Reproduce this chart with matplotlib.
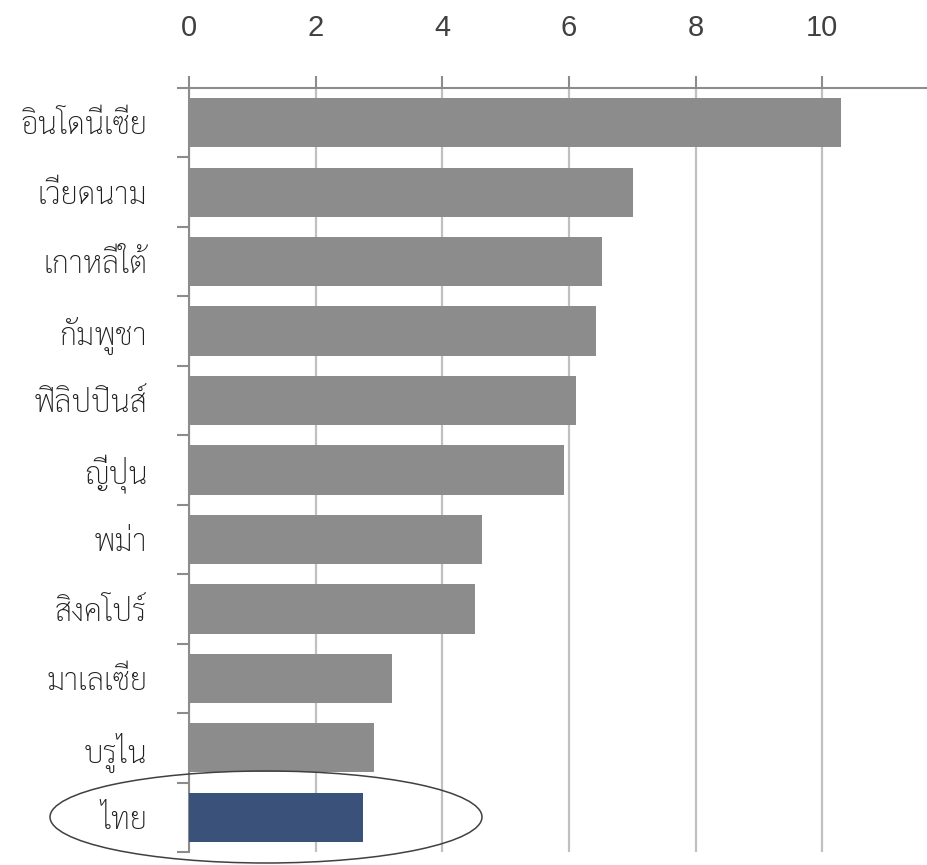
import matplotlib
matplotlib.use("Agg")
import matplotlib.pyplot as plt
from matplotlib.patches import Ellipse
import numpy as np

countries = ["อินโดนีเซีย", "เวียดนาม", "เกาหลีใต้", "กัมพูชา", "ฟิลิปปินส์",
             "ญี่ปุ่น", "พม่า", "สิงคโปร์", "มาเลเซีย", "บรูไน", "ไทย"]
values = [10.30, 7.01, 6.52, 6.43, 6.11, 5.92, 4.63, 4.52, 3.21, 2.92, 2.74]
highlight = "ไทย"
xticks = [0, 2, 4, 6, 8, 10]

thai_fonts = ["Sarabun", "Noto Sans Thai Looped", "Noto Sans Thai", "DejaVu Sans"]
num_fonts = ["Liberation Sans", "DejaVu Sans"]

fig = plt.figure(figsize=(9.28, 8.65), dpi=100)
ax = fig.add_axes([189 / 928, 1 - 852 / 865, (928 - 189) / 928, (852 - 88) / 865])

y = np.arange(len(countries))
colors = ["#3a5279" if c == highlight else "#8c8c8c" for c in countries]
ax.barh(y, values, height=0.71, color=colors, zorder=3)

ax.set_xlim(0, 11.67)
ax.set_ylim(len(countries) - 0.5, -0.5)

ax.xaxis.tick_top()
ax.set_xticks(xticks)
ax.set_xticklabels([str(t) for t in xticks], family=num_fonts, fontsize=21, color="#404040")
ax.tick_params(axis="x", which="major", direction="out", length=9, width=1.5,
               color="#8c8c8c", pad=24)

ax.set_yticks(y)
ax.set_yticklabels(countries, family=thai_fonts, fontsize=22, fontweight="light",
                   color="#1e1e1e")
ax.set_yticks(np.arange(len(countries) + 1) - 0.5, minor=True)
ax.tick_params(axis="y", which="major", length=0, pad=30)
ax.tick_params(axis="y", which="minor", direction="out", length=9, width=1.5,
               color="#8c8c8c")

ax.grid(axis="x", color="#c0c0c0", linewidth=1.6, zorder=1)
ax.set_axisbelow(True)

for s in ["right", "bottom"]:
    ax.spines[s].set_visible(False)
for s in ["top", "left"]:
    ax.spines[s].set_color("#8c8c8c")
    ax.spines[s].set_linewidth(1.5)

ell = Ellipse((266 / 928, 1 - 817 / 865), 432 / 928, 92 / 865,
              transform=fig.transFigure, fill=False, edgecolor="#404040",
              linewidth=1.1, zorder=10)
fig.patches.append(ell)

fig.savefig("out.png", dpi=100)
